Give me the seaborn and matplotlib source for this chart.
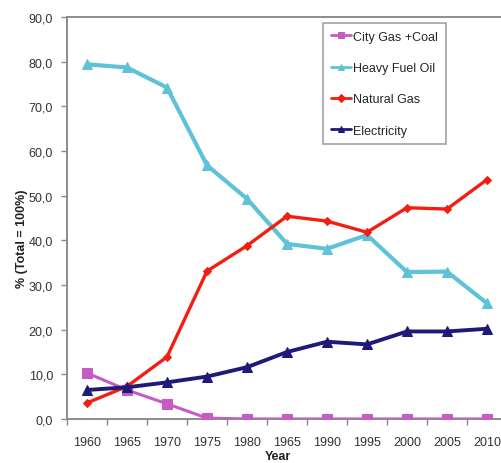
import matplotlib
matplotlib.use("Agg")
import matplotlib.pyplot as plt
import seaborn as sns
import pandas as pd
from matplotlib.ticker import MultipleLocator, FixedLocator

years = ["1960", "1965", "1970", "1975", "1980", "1965", "1990", "1995", "2000", "2005", "2010"]
city_gas_coal = [10.3, 6.5, 3.4, 0.2, 0.0, 0.0, 0.0, 0.0, 0.0, 0.0, 0.0]
heavy_fuel_oil = [79.4, 78.7, 74.2, 56.8, 49.3, 39.2, 38.1, 41.2, 32.9, 33.0, 25.9]
natural_gas = [3.6, 7.3, 13.9, 33.1, 38.8, 45.4, 44.3, 41.8, 47.3, 47.0, 53.6]
electricity = [6.5, 7.1, 8.2, 9.5, 11.6, 15.0, 17.3, 16.7, 19.6, 19.6, 20.2]

series_names = ["City Gas +Coal", "Heavy Fuel Oil", "Natural Gas", "Electricity"]
series_values = [city_gas_coal, heavy_fuel_oil, natural_gas, electricity]
colors = ["#C65BC3", "#5EC3D8", "#F21E12", "#1E1B78"]
markers = ["s", "^", "D", "^"]
line_widths = [2.2, 3.0, 2.4, 2.8]
marker_sizes = [7.5, 7, 4.5, 7]

rows = []
for name, vals in zip(series_names, series_values):
    for i, v in enumerate(vals):
        rows.append({"pos": i, "value": v, "series": name})
df = pd.DataFrame(rows)

sns.set_style("white")
plt.rcParams["font.family"] = ["Liberation Sans", "DejaVu Sans"]

fig = plt.figure(figsize=(5.02, 4.64), dpi=100)
ax = fig.add_axes([67 / 502, 44 / 464, 435 / 502, 402 / 464])

for name, c, m, lw, ms in zip(series_names, colors, markers, line_widths, marker_sizes):
    sub = df[df["series"] == name]
    sns.lineplot(data=sub, x="pos", y="value", ax=ax, color=c, marker=m,
                 linewidth=lw, markersize=ms, markeredgecolor=c,
                 markerfacecolor=c, label=name, zorder=3)

ax.set_xlim(-0.5, 10.375)
ax.set_ylim(0, 90)
ax.yaxis.set_major_locator(MultipleLocator(10))
ax.set_yticklabels([f"{v:.1f}".replace(".", ",") for v in ax.get_yticks()])
ax.xaxis.set_major_locator(FixedLocator(range(len(years))))
ax.set_xticklabels(years)
ax.xaxis.set_minor_locator(FixedLocator([i - 0.5 for i in range(len(years) + 1)]))

ax.tick_params(axis="x", which="major", length=0, pad=12, labelsize=9, colors="#333333")
ax.tick_params(axis="x", which="minor", length=4, width=1, color="#888888", direction="out")
ax.tick_params(axis="y", which="major", length=4, width=1, color="#888888",
               direction="out", labelsize=9, labelcolor="#333333", pad=6)
ax.tick_params(bottom=True, left=True, which="both")

for side in ["left", "bottom", "top"]:
    ax.spines[side].set_visible(True)
    ax.spines[side].set_color("#8c8c8c")
    ax.spines[side].set_linewidth(1.4)
ax.spines["right"].set_visible(False)

ax.set_xlabel("Year", fontsize=9, fontweight="bold", color="#222222")
ax.xaxis.set_label_coords(0.485, -0.077)
ax.set_ylabel("% (Total = 100%)", fontsize=9, fontweight="bold", color="#222222")
ax.yaxis.set_label_coords(-0.09, 0.45)

leg = ax.legend(loc="upper left", bbox_to_anchor=(0.589, 0.985), frameon=True,
                fancybox=False, edgecolor="#8c8c8c", fontsize=9,
                handlelength=1.6, handletextpad=0.2, labelspacing=1.55,
                borderpad=0.6, borderaxespad=0)
leg.get_frame().set_linewidth(1.2)
for line in leg.get_lines():
    line.set_linewidth(2)
    line.set_markersize(4)

fig.savefig("out.png", dpi=100)
